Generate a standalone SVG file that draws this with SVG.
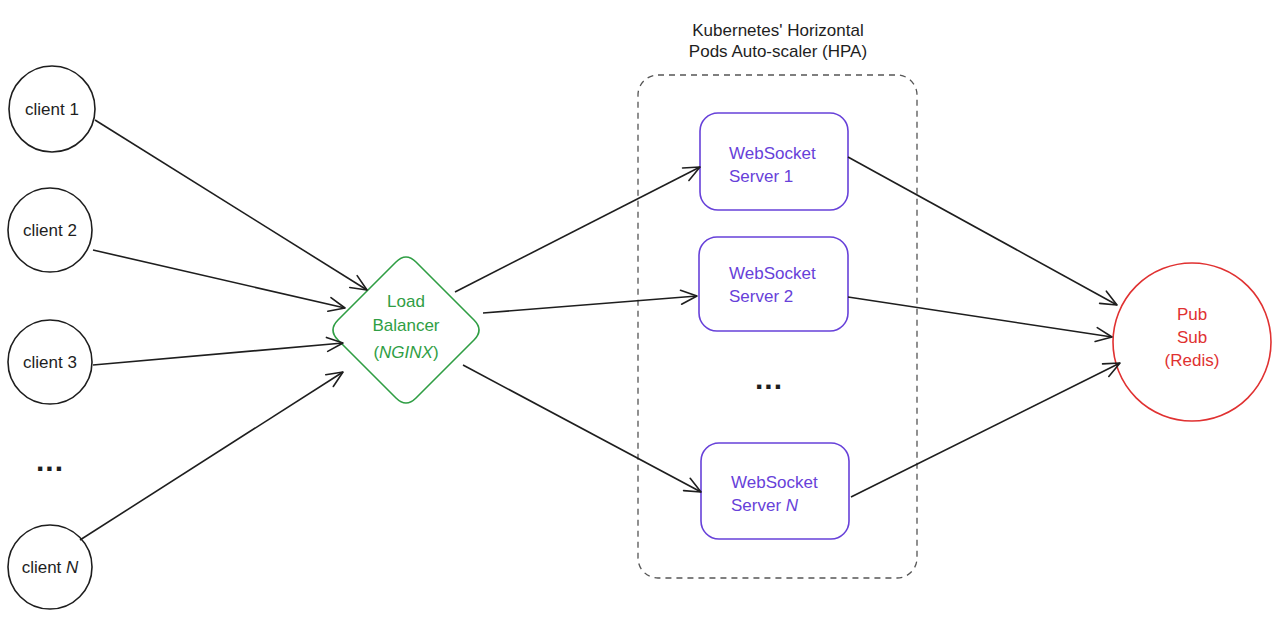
<svg xmlns="http://www.w3.org/2000/svg" width="1280" height="631" viewBox="0 0 1280 631">
<defs>
<marker id="arr" viewBox="0 0 20 20" refX="18" refY="10" markerWidth="20" markerHeight="20" markerUnits="userSpaceOnUse" orient="auto">
<path d="M2,3 L18,10 L2,17" fill="none" stroke="#1e1e1e" stroke-width="1.6" stroke-linecap="round" stroke-linejoin="round"/>
</marker>
<style>
text{font-family:"Liberation Sans","Open Sans",sans-serif;font-size:17px;}
.cl{fill:#ffffff;stroke:#1e1e1e;stroke-width:1.6;}
.ct{fill:#1e1e1e;text-anchor:middle;}
.ws rect{fill:#ffffff;stroke:#6741d9;stroke-width:1.6;}
.wt{fill:#6741d9;}
.conn line{stroke:#1e1e1e;stroke-width:1.6;marker-end:url(#arr);}
.dots{font-size:30px;font-weight:bold;fill:#1e1e1e;text-anchor:middle;letter-spacing:1px;}
</style>
</defs>
<rect width="1280" height="631" fill="#ffffff"/>

<g id="hpa">
<rect x="638" y="75" width="279" height="503" rx="20" fill="none" stroke="#555" stroke-width="1.3" stroke-dasharray="6,5"/>
<text x="778" y="36" text-anchor="middle" fill="#1e1e1e">Kubernetes' Horizontal</text>
<text x="778" y="57" text-anchor="middle" fill="#1e1e1e">Pods Auto-scaler (HPA)</text>
</g>

<g id="client1"><circle class="cl" cx="52" cy="109" r="43"/><text class="ct" x="52" y="115">client 1</text></g>
<g id="client2"><circle class="cl" cx="50" cy="230" r="42"/><text class="ct" x="50" y="236">client 2</text></g>
<g id="client3"><circle class="cl" cx="50" cy="362" r="42"/><text class="ct" x="50" y="368">client 3</text></g>
<g id="clients-more"><text class="dots" x="50" y="471">...</text></g>
<g id="clientN"><circle class="cl" cx="50" cy="567" r="42"/><text class="ct" x="50" y="573"><tspan>client </tspan><tspan font-style="italic">N</tspan></text></g>

<g id="lb">
<path d="M396,262 Q406,252 416,262 L474,320 Q484,330 474,340 L416,398 Q406,408 396,398 L338,340 Q328,330 338,320 Z" fill="#ffffff" stroke="#2f9e44" stroke-width="1.6"/>
<text x="406" y="307" text-anchor="middle" fill="#2f9e44">Load</text>
<text x="406" y="331" text-anchor="middle" fill="#2f9e44">Balancer</text>
<text x="406" y="358" text-anchor="middle" fill="#2f9e44">(<tspan font-style="italic">NGINX</tspan>)</text>
</g>

<g id="ws1" class="ws"><rect x="700" y="113" width="148" height="97" rx="18"/><text class="wt" x="729" y="159">WebSocket</text><text class="wt" x="729" y="182">Server 1</text></g>
<g id="ws2" class="ws"><rect x="699" y="237" width="149" height="94" rx="18"/><text class="wt" x="729" y="279">WebSocket</text><text class="wt" x="729" y="302">Server 2</text></g>
<g id="ws-more"><text class="dots" x="769" y="389">...</text></g>
<g id="wsN" class="ws"><rect x="701" y="443" width="148" height="96" rx="18"/><text class="wt" x="731" y="488">WebSocket</text><text class="wt" x="731" y="511">Server <tspan font-style="italic">N</tspan></text></g>

<g id="redis">
<circle cx="1192" cy="342" r="79" fill="#ffffff" stroke="#e03131" stroke-width="1.6"/>
<text x="1192" y="320" text-anchor="middle" fill="#e03131">Pub</text>
<text x="1192" y="343" text-anchor="middle" fill="#e03131">Sub</text>
<text x="1192" y="366" text-anchor="middle" fill="#e03131">(Redis)</text>
</g>

<g id="connectors" class="conn">
<line x1="95" y1="120" x2="367" y2="290"/>
<line x1="93" y1="250" x2="345" y2="308"/>
<line x1="93" y1="365" x2="343" y2="343"/>
<line x1="80" y1="540" x2="343" y2="372"/>
<line x1="455" y1="292" x2="700" y2="167"/>
<line x1="483" y1="313" x2="697" y2="296"/>
<line x1="463" y1="365" x2="701" y2="492"/>
<line x1="848" y1="157" x2="1117" y2="305"/>
<line x1="848" y1="297" x2="1112" y2="337"/>
<line x1="851" y1="497" x2="1120" y2="363"/>
</g>
</svg>
